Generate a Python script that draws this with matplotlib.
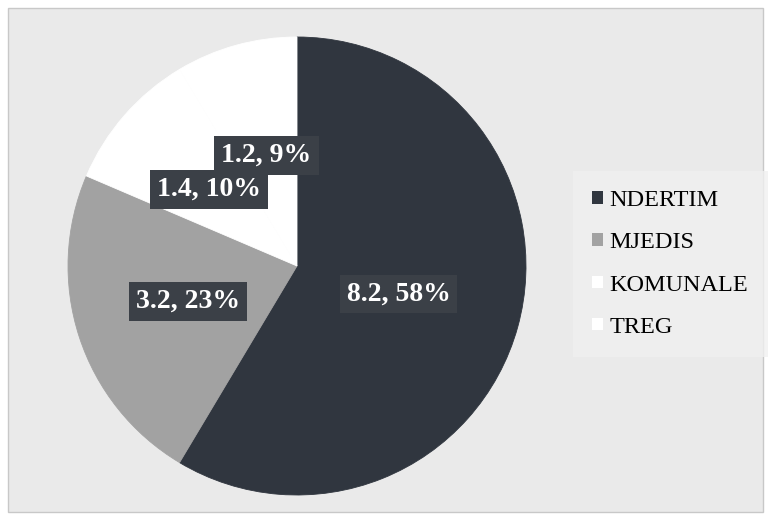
import numpy as np
import matplotlib.pyplot as plt
from matplotlib.patches import Rectangle, Patch

# values
categories = ["NDERTIM", "MJEDIS", "KOMUNALE", "TREG"]
values = [8.2, 3.2, 1.4, 1.2]
pct_labels = ["8.2, 58%", "3.2, 23%", "1.4, 10%", "1.2, 9%"]
colors = ["#30363f", "#a2a2a2", "#ffffff", "#ffffff"]

fig = plt.figure(figsize=(7.7, 5.19), dpi=100)
fig.patch.set_facecolor("white")

# grey panel behind the chart
bg = fig.add_axes([0, 0, 1, 1], zorder=-1)
bg.axis("off")
bg.add_patch(Rectangle((8 / 770, 7 / 519), 755 / 770, 504 / 519,
                       transform=bg.transAxes, facecolor="#eaeaea",
                       edgecolor="#c8c8c8", linewidth=1))

ax = fig.add_axes([68 / 770, 24 / 519, 458 / 770, 458 / 519])
wedges, texts = ax.pie(values, colors=colors, startangle=90, counterclock=False,
                       radius=1, wedgeprops=dict(linewidth=0.6))
for w, c in zip(wedges, colors):
    w.set_edgecolor(c)
ax.set_xlim(-1, 1)
ax.set_ylim(-1, 1)
ax.set_aspect("equal")
ax.axis("off")

# data labels in dark boxes
dists = [0.46, 0.5, 0.51, 0.5]
for w, lab, d in zip(wedges, pct_labels, dists):
    ang = np.deg2rad((w.theta1 + w.theta2) / 2)
    ax.text(d * np.cos(ang), d * np.sin(ang), lab, ha="center", va="center",
            color="white", fontsize=20, fontweight="bold", family="Liberation Serif",
            bbox=dict(boxstyle="square,pad=0.25", facecolor="#3b4047", edgecolor="none"))

handles = [Patch(facecolor=c, edgecolor="none") for c in colors]
leg = fig.legend(handles, categories, loc="center left",
                 bbox_to_anchor=(568 / 770, 1 - 264 / 519), frameon=True,
                 handlelength=0.42, handleheight=0.42, handletextpad=0.28,
                 labelspacing=0.87, borderpad=0.5,
                 prop={"family": "Liberation Serif", "size": 17.5})
leg.get_frame().set_facecolor("#f0f0f0")
leg.get_frame().set_edgecolor("none")
leg.get_frame().set_boxstyle("square")

fig.savefig("out.png", dpi=100)
